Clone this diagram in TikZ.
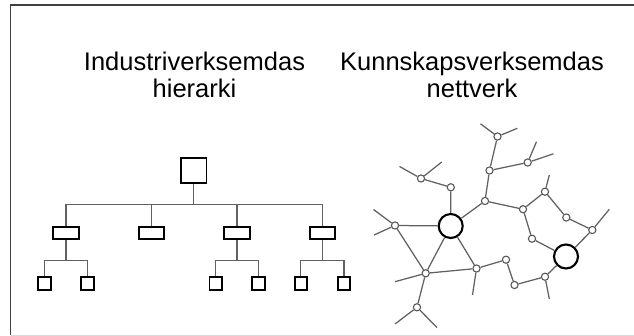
\documentclass[tikz,border=0pt]{standalone}
\usepackage{fontspec}
\setmainfont{Liberation Sans}
\begin{document}
\begin{tikzpicture}[x=1pt,y=-1pt,
  conn/.style={draw=black!62,line width=1.25pt},
  hbox/.style={draw=black,line width=1.9pt,fill=white,inner sep=0pt},
  topbox/.style={hbox,minimum width=25.5pt,minimum height=25.5pt},
  midbox/.style={hbox,minimum width=25.5pt,minimum height=12.5pt},
  leafbox/.style={hbox,minimum width=12.5pt,minimum height=12.5pt},
  sm/.style={circle,draw=black!65,line width=1.1pt,fill=white,inner sep=0pt,minimum size=7.2pt},
  big/.style={circle,draw=black,line width=2.1pt,fill=white,inner sep=0pt,minimum size=24pt},
  title/.style={font=\fontsize{25.5}{27}\selectfont,align=center,inner sep=0pt}]
\useasboundingbox (0,0) rectangle (634,336);
% frame
\coordinate (fTR) at (634,5);
\coordinate (fTL) at (10.5,5);
\coordinate (fBL) at (10.5,335);
\coordinate (fBR) at (634,335);
\draw[black!75,line width=1.3pt] (fTR) -- (fTL) -- (fBL);
\draw[black!15,line width=1pt] (fBL) -- (fBR);
% titles
\node[title] (t1) at (194.5,75) {Industriverksemdas\\hierarki};
\node[title] (t2) at (472,75) {Kunnskapsverksemdas\\nettverk};
% hierarchy
\node[topbox] (top) at (193.7,170.7) {};
\node[midbox] (b1) at (66,233) {};
\node[midbox] (b2) at (151.3,233) {};
\node[midbox] (b3) at (237,233) {};
\node[midbox] (b4) at (322.3,233) {};
\node[leafbox] (c11) at (44.5,283.7) {};
\node[leafbox] (c12) at (87.3,283.7) {};
\node[leafbox] (c31) at (215.7,283.7) {};
\node[leafbox] (c32) at (258.3,283.7) {};
\node[leafbox] (c41) at (300.8,283.7) {};
\node[leafbox] (c42) at (344,283.7) {};
\coordinate (jn) at (193.7,204.7);
\coordinate (j1) at (66,260.3);
\coordinate (j3) at (237,260.3);
\coordinate (j4) at (322.3,260.3);
\draw[conn] (top.south) -- (jn);
\draw[conn] (b1.north) |- (jn) -| (b4.north);
\draw[conn] (b2.north) -- (b2.north |- jn);
\draw[conn] (b3.north) -- (b3.north |- jn);
\draw[conn] (b1.south) -- (j1);
\draw[conn] (c11.north) |- (j1) -| (c12.north);
\draw[conn] (b3.south) -- (j3);
\draw[conn] (c31.north) |- (j3) -| (c32.north);
\draw[conn] (b4.south) -- (j4);
\draw[conn] (c41.north) |- (j4) -| (c42.north);
% network nodes
\node[big] (A) at (450.7,226) {};
\node[big] (B) at (566,256.5) {};
\node[sm] (n1) at (421,178.5) {};
\node[sm] (n2) at (450.8,187.3) {};
\node[sm] (n3) at (395,225.5) {};
\node[sm] (n4) at (425.7,273.3) {};
\node[sm] (n5) at (476.5,268.5) {};
\node[sm] (n6) at (417,307.3) {};
\node[sm] (n7) at (506,259.7) {};
\node[sm] (n8) at (514.5,285) {};
\node[sm] (n9) at (545,276.7) {};
\node[sm] (n10) at (485,201) {};
\node[sm] (n11) at (489.5,170.5) {};
\node[sm] (n12) at (497.5,136.5) {};
\node[sm] (n13) at (523,209.2) {};
\node[sm] (n14) at (527.7,162.5) {};
\node[sm] (n15) at (532,238.7) {};
\node[sm] (n16) at (545,191.7) {};
\node[sm] (n17) at (566.3,217.5) {};
\node[sm] (n18) at (592.3,230) {};
% stub ends
\coordinate (s1a) at (399.5,166.5);
\coordinate (s1b) at (441.7,162);
\coordinate (s3a) at (373.5,209.5);
\coordinate (s3b) at (374,235);
\coordinate (s4a) at (395,281.7);
\coordinate (s5a) at (472.5,295);
\coordinate (s6a) at (395,324);
\coordinate (s6b) at (437,327.5);
\coordinate (s9a) at (549.3,299);
\coordinate (s12a) at (480.5,123.8);
\coordinate (s12b) at (517.3,128.3);
\coordinate (s14a) at (536.5,141.7);
\coordinate (s14b) at (553.5,153.8);
\coordinate (s16a) at (549.3,175);
\coordinate (s18a) at (609.3,209.3);
% network edges
\draw[conn] (n1) -- (n2);
\draw[conn] (n2) -- (A);
\draw[conn] (n3) -- (A);
\draw[conn] (n3) -- (n4);
\draw[conn] (A) -- (n4);
\draw[conn] (A) -- (n5);
\draw[conn] (n4) -- (n5);
\draw[conn] (n4) -- (n6);
\draw[conn] (n5) -- (n7);
\draw[conn] (n7) -- (n8);
\draw[conn] (n8) -- (n9);
\draw[conn] (n9) -- (B);
\draw[conn] (A) -- (n10);
\draw[conn] (n10) -- (n11);
\draw[conn] (n11) -- (n12);
\draw[conn] (n11) -- (n14);
\draw[conn] (n10) -- (n13);
\draw[conn] (n13) -- (n15);
\draw[conn] (n15) -- (B);
\draw[conn] (n13) -- (n16);
\draw[conn] (n16) -- (n17);
\draw[conn] (n17) -- (n18);
\draw[conn] (n18) -- (B);
\draw[conn] (n1) -- (s1a);
\draw[conn] (n1) -- (s1b);
\draw[conn] (n3) -- (s3a);
\draw[conn] (n3) -- (s3b);
\draw[conn] (n4) -- (s4a);
\draw[conn] (n5) -- (s5a);
\draw[conn] (n6) -- (s6a);
\draw[conn] (n6) -- (s6b);
\draw[conn] (n9) -- (s9a);
\draw[conn] (n12) -- (s12a);
\draw[conn] (n12) -- (s12b);
\draw[conn] (n14) -- (s14a);
\draw[conn] (n14) -- (s14b);
\draw[conn] (n16) -- (s16a);
\draw[conn] (n18) -- (s18a);
\end{tikzpicture}
\end{document}
